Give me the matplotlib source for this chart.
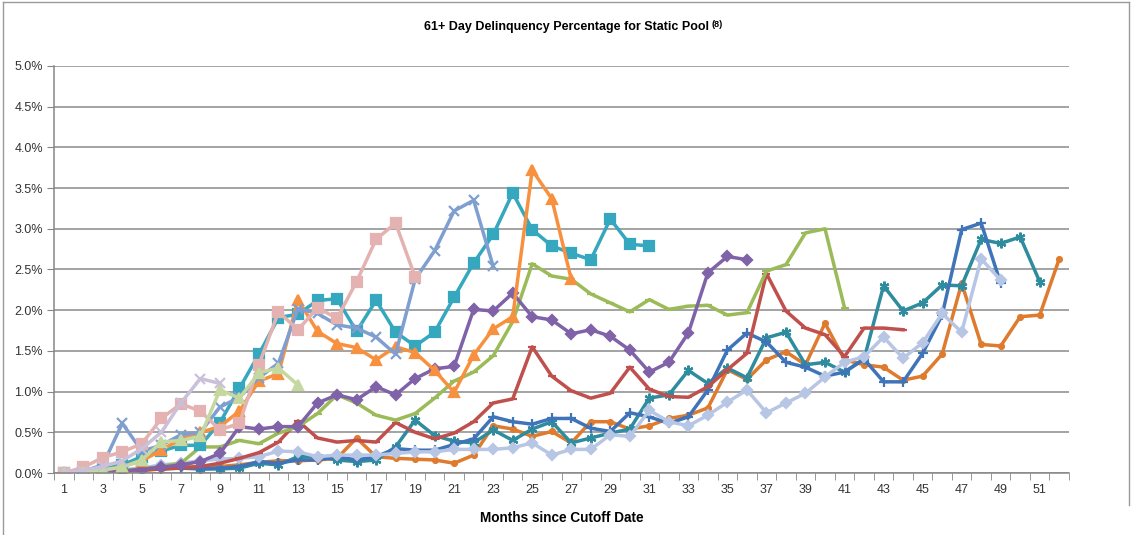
import matplotlib
matplotlib.use("Agg")
import matplotlib.pyplot as plt
from matplotlib.lines import Line2D

plt.rcParams['font.family'] = ['Liberation Sans', 'DejaVu Sans']

# 61+ day delinquency (%) by month since cutoff, one list per static pool
brown_circ = [0, 0, 0.01, 0.02, 0.03, 0.05, 0.07, 0.08, 0.08, 0.10, 0.13, 0.15, 0.15, 0.16, 0.18,
              0.43, 0.20, 0.18, 0.17, 0.16, 0.12, 0.22, 0.58, 0.54, 0.45, 0.51, 0.37, 0.63, 0.63,
              0.54, 0.58, 0.67, 0.71, 0.80, 1.27, 1.15, 1.39, 1.49, 1.33, 1.84, 1.39, 1.33, 1.30,
              1.14, 1.19, 1.46, 2.33, 1.58, 1.56, 1.92, 1.94, 2.63]
teal_ast = [0, 0, 0.01, 0.03, 0.05, 0.07, 0.08, 0.05, 0.05, 0.06, 0.12, 0.10, 0.20, 0.20, 0.16,
            0.14, 0.16, 0.32, 0.65, 0.46, 0.39, 0.37, 0.53, 0.40, 0.54, 0.63, 0.37, 0.43, 0.49,
            0.54, 0.92, 0.96, 1.26, 1.10, 1.29, 1.17, 1.66, 1.73, 1.33, 1.36, 1.24, 1.40, 2.30,
            1.99, 2.09, 2.31, 2.30, 2.87, 2.82, 2.90, 2.35]
blue_plus = [0, 0, 0.02, 0.03, 0.04, 0.05, 0.06, 0.05, 0.06, 0.08, 0.14, 0.12, 0.16, 0.16, 0.20,
             0.16, 0.20, 0.30, 0.28, 0.28, 0.35, 0.42, 0.69, 0.63, 0.60, 0.67, 0.67, 0.55, 0.51,
             0.74, 0.69, 0.61, 0.69, 1.02, 1.51, 1.72, 1.61, 1.36, 1.30, 1.19, 1.24, 1.40, 1.12,
             1.12, 1.47, 1.94, 2.99, 3.07, 2.33]
light_dia = [0, 0, 0.02, 0.04, 0.06, 0.10, 0.12, 0.15, 0.17, 0.18, 0.20, 0.27, 0.26, 0.20, 0.22,
             0.22, 0.22, 0.24, 0.26, 0.26, 0.29, 0.29, 0.29, 0.31, 0.37, 0.22, 0.29, 0.29, 0.47,
             0.45, 0.77, 0.63, 0.58, 0.71, 0.87, 1.02, 0.74, 0.86, 0.98, 1.18, 1.36, 1.43, 1.67,
             1.41, 1.60, 1.96, 1.73, 2.63, 2.37]
red_dash = [0, 0, 0.01, 0.02, 0.04, 0.05, 0.06, 0.08, 0.12, 0.18, 0.25, 0.38, 0.64, 0.43, 0.38,
            0.40, 0.38, 0.62, 0.50, 0.42, 0.49, 0.63, 0.86, 0.91, 1.55, 1.19, 1.01, 0.92, 0.98,
            1.30, 1.03, 0.94, 0.93, 1.06, 1.27, 1.47, 2.45, 1.99, 1.78, 1.70, 1.43, 1.78, 1.78, 1.76]
green_dash = [0, 0, 0.02, 0.03, 0.05, 0.08, 0.12, 0.32, 0.32, 0.40, 0.36, 0.49, 0.57, 0.73, 0.96,
              0.86, 0.71, 0.65, 0.73, 0.92, 1.13, 1.24, 1.44, 1.86, 2.57, 2.42, 2.38, 2.20, 2.09,
              1.98, 2.13, 2.01, 2.05, 2.06, 1.94, 1.97, 2.48, 2.56, 2.95, 3.00, 2.03]
purple_dia = [0, 0, 0.01, 0.02, 0.05, 0.07, 0.10, 0.14, 0.24, 0.57, 0.54, 0.57, 0.57, 0.86, 0.96,
              0.90, 1.06, 0.96, 1.16, 1.28, 1.31, 2.01, 1.99, 2.21, 1.92, 1.88, 1.71, 1.76, 1.68,
              1.51, 1.24, 1.36, 1.72, 2.46, 2.66, 2.62]
teal_sq = [0, 0.02, 0.05, 0.10, 0.20, 0.27, 0.34, 0.34, 0.62, 1.04, 1.46, 1.91, 1.95, 2.12, 2.14,
           1.74, 2.12, 1.73, 1.56, 1.73, 2.16, 2.58, 2.93, 3.44, 2.99, 2.79, 2.70, 2.62, 3.12, 2.81, 2.79]
orange_tri = [0, 0, 0.03, 0.08, 0.15, 0.28, 0.42, 0.50, 0.57, 0.76, 1.13, 1.22, 2.13, 1.74, 1.59,
              1.54, 1.39, 1.55, 1.48, 1.26, 0.99, 1.45, 1.77, 1.92, 3.72, 3.37, 2.38]
steel_x = [0, 0.02, 0.10, 0.61, 0.27, 0.34, 0.47, 0.50, 0.81, 0.93, 1.17, 1.35, 2.02, 1.96, 1.82,
           1.78, 1.67, 1.46, 2.38, 2.73, 3.22, 3.35, 2.54]
pink_sq = [0, 0.07, 0.19, 0.26, 0.36, 0.67, 0.85, 0.76, 0.53, 0.61, 1.33, 1.98, 1.76, 2.03, 1.90,
           2.35, 2.87, 3.07, 2.41]
lgreen_tri = [0, 0.01, 0.04, 0.07, 0.16, 0.38, 0.40, 0.45, 1.02, 0.92, 1.23, 1.29, 1.08]
lpurple_x = [0, 0.03, 0.08, 0.15, 0.30, 0.50, 0.86, 1.16, 1.10]

n_months = 52
yticks = [0.0, 0.5, 1.0, 1.5, 2.0, 2.5, 3.0, 3.5, 4.0, 4.5, 5.0]

# (values, colour, marker, marker size)
series = [
    (brown_circ, '#DE7B2E', 'o', 3.5),
    (teal_ast, '#2F8C9E', (6, 2, 0), 7),
    (blue_plus, '#3F74B8', '+', 7),
    (light_dia, '#B7C6E4', 'D', 5),
    (red_dash, '#C0504D', '_', 6),
    (green_dash, '#9BBB59', '_', 6),
    (purple_dia, '#7F62A8', 'D', 5),
    (teal_sq, '#35A7BF', 's', 6.5),
    (orange_tri, '#F7913F', '^', 6.5),
    (steel_x, '#7F9FD0', 'x', 7),
    (pink_sq, '#E4B2B0', 's', 6.5),
    (lgreen_tri, '#C5D89F', '^', 6.5),
    (lpurple_x, '#CBC0DA', 'x', 7),
]

fig = plt.figure(figsize=(11.32, 5.35), dpi=100)
ax = fig.add_axes([54 / 1132, 62 / 535, 1015 / 1132, 407 / 535])

for vals, col, mk, ms in series:
    months = range(1, len(vals) + 1)
    ax.plot(months, vals, color=col, lw=2.5, marker=mk, markersize=ms,
            markeredgewidth=1.6, markerfacecolor=col, markeredgecolor=col,
            solid_joinstyle='round')

ax.set_xlim(0.5, n_months + 0.5)
ax.set_ylim(0, 5.0)
ax.set_yticks(yticks)
ax.set_yticklabels([f"{v:.1f}%" for v in yticks], fontsize=9, color='#333333')
ax.set_xticks(range(1, n_months + 1, 2))
ax.set_xticklabels([str(m) for m in range(1, n_months + 1, 2)], fontsize=9, color='#333333')
ax.set_xticks([m + 0.5 for m in range(0, n_months + 1)], minor=True)
ax.tick_params(axis='x', which='major', length=0, pad=8)
ax.tick_params(axis='x', which='minor', length=5, color='#868686')
ax.tick_params(axis='y', length=5, color='#868686', pad=3)

ax.grid(axis='y', color='#8A8A8A', lw=1.1)
ax.set_axisbelow(True)
for side in ['top', 'right']:
    ax.spines[side].set_visible(False)
for side in ['left', 'bottom']:
    ax.spines[side].set_color('#868686')
    ax.spines[side].set_linewidth(1.1)

ax.set_xlabel('Months since Cutoff Date', fontsize=9.8, fontweight='bold', labelpad=11)

title = fig.text(0.5, 1 - 27 / 535, '61+ Day Delinquency Percentage for Static Pool',
                 ha='center', va='center', fontsize=9, fontweight='bold')
renderer = fig.canvas.get_renderer()
bb = title.get_window_extent(renderer)
fig.text((bb.x1 + 3) / fig.bbox.width, (bb.y1 + 1) / fig.bbox.height, '(8)',
         ha='left', va='top', fontsize=6.5, fontweight='bold')

# chart-area border
for xs, ys in [([3, 1129], [533, 533]), ([3, 3], [0, 533]), ([1129, 1129], [30, 533])]:
    fig.add_artist(Line2D([x / 1132 for x in xs], [y / 535 for y in ys], color='#9A9A9A', lw=1.0))

fig.savefig('out.png', dpi=100)
